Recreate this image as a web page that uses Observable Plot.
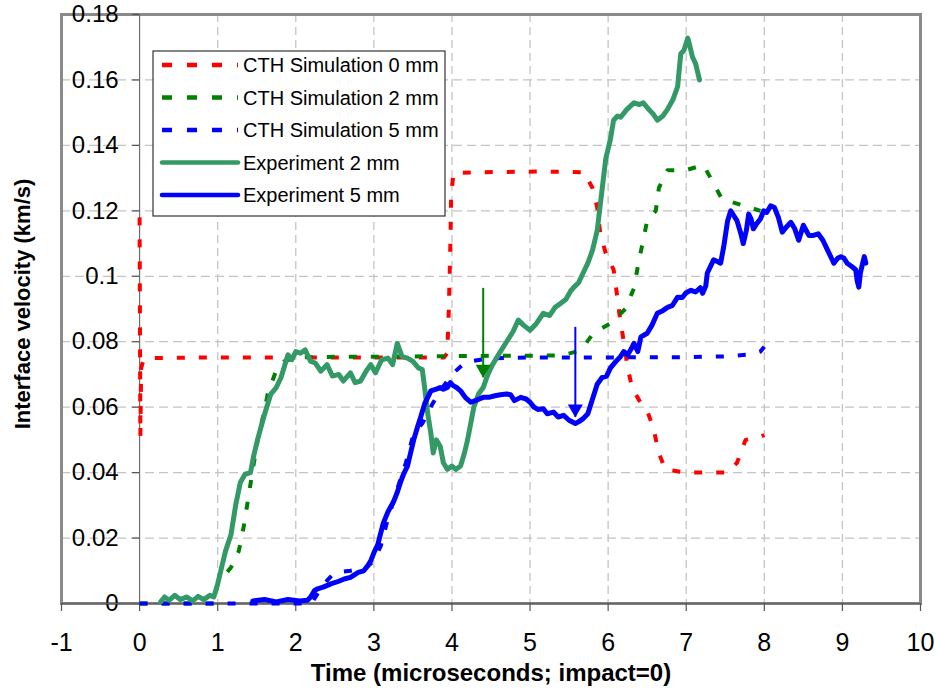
<!DOCTYPE html>
<html><head><meta charset="utf-8">
<script src="https://cdn.jsdelivr.net/npm/d3@7"></script>
<script src="https://cdn.jsdelivr.net/npm/@observablehq/plot@0.6"></script>
<style>body{margin:0;background:#fff}</style>
</head><body><div id="chart"></div>
<script>
// ---- tick values & titles ----
const xTicks = [-1, 0, 1, 2, 3, 4, 5, 6, 7, 8, 9, 10];
const yTicks = [0, 0.02, 0.04, 0.06, 0.08, 0.1, 0.12, 0.14, 0.16, 0.18];
const xTitle = "Time (microseconds; impact=0)";
const yTitle = "Interface velocity (km/s)";

// ---- series: [time (µs), velocity (km/s)] ----
const sim0mm = [[0,0.118],[0.01,0.051],[0.02,0.072],[0.05,0.0745],[0.15,0.075],[1,0.0752],[2,0.0752],[3,0.0752],[3.9,0.0752],[3.94,0.0765],[3.96,0.09],[3.98,0.11],[3.99,0.125],[4.02,0.1315],[4.33,0.1318],[5.13,0.132],[5.69,0.1318],[5.8,0.127],[5.86,0.121],[5.9,0.113],[5.97,0.107],[6.07,0.102],[6.11,0.095],[6.15,0.0875],[6.2,0.08],[6.25,0.072],[6.31,0.0657],[6.4,0.062],[6.5,0.059],[6.58,0.0535],[6.65,0.046],[6.73,0.041],[6.99,0.04],[7.27,0.04],[7.53,0.04],[7.65,0.043],[7.76,0.05],[7.95,0.051],[8.0,0.0515]];
const sim2mm = [[0,0],[0.95,0],[1.01,0.007],[1.1,0.009],[1.17,0.011],[1.27,0.016],[1.33,0.023],[1.38,0.0305],[1.45,0.041],[1.52,0.051],[1.59,0.058],[1.64,0.064],[1.74,0.0706],[1.85,0.074],[2.0,0.0752],[2.5,0.0754],[3.0,0.0754],[3.5,0.0755],[4.0,0.0756],[4.5,0.0757],[5.0,0.0757],[5.4,0.0758],[5.6,0.077],[5.67,0.078],[5.81,0.0826],[6.03,0.0856],[6.22,0.09],[6.33,0.0963],[6.38,0.103],[6.44,0.11],[6.5,0.117],[6.61,0.12],[6.65,0.127],[6.76,0.1324],[6.99,0.1324],[7.22,0.134],[7.35,0.1284],[7.46,0.1235],[7.72,0.1217],[7.95,0.12]];
const sim5mm = [[0,0],[2.2,0],[2.28,0.003],[2.4,0.007],[2.5,0.0095],[2.7,0.01],[2.9,0.011],[3.0,0.013],[3.09,0.0177],[3.17,0.025],[3.3,0.035],[3.41,0.043],[3.51,0.052],[3.62,0.055],[3.75,0.061],[3.88,0.066],[4.0,0.07],[4.17,0.0737],[4.46,0.0749],[5.0,0.0752],[6.0,0.0752],[7.0,0.0753],[7.5,0.0755],[7.85,0.0762],[7.95,0.077],[8.0,0.0785]];
const exp2mm = [[0.27,0.0005],[0.32,0.002],[0.38,0.001],[0.45,0.0025],[0.52,0.0012],[0.6,0.002],[0.68,0.0008],[0.75,0.0022],[0.82,0.0012],[0.9,0.0025],[0.95,0.002],[1.0,0.006],[1.05,0.011],[1.1,0.016],[1.17,0.021],[1.23,0.03],[1.29,0.037],[1.35,0.0395],[1.42,0.04],[1.46,0.045],[1.51,0.05],[1.59,0.057],[1.68,0.064],[1.75,0.066],[1.81,0.069],[1.9,0.076],[1.95,0.0745],[2.0,0.077],[2.06,0.0765],[2.12,0.0775],[2.19,0.074],[2.25,0.0735],[2.32,0.071],[2.4,0.073],[2.47,0.0695],[2.55,0.07],[2.61,0.068],[2.7,0.0705],[2.76,0.0675],[2.83,0.068],[2.9,0.071],[2.96,0.073],[3.02,0.0705],[3.1,0.0745],[3.18,0.075],[3.24,0.073],[3.3,0.0795],[3.36,0.0755],[3.43,0.075],[3.5,0.074],[3.57,0.072],[3.62,0.0715],[3.65,0.066],[3.69,0.058],[3.73,0.052],[3.76,0.046],[3.8,0.05],[3.85,0.048],[3.89,0.043],[3.94,0.041],[4.0,0.042],[4.05,0.041],[4.11,0.042],[4.16,0.046],[4.2,0.05],[4.28,0.06],[4.34,0.064],[4.4,0.066],[4.46,0.07],[4.52,0.073],[4.62,0.077],[4.7,0.08],[4.78,0.083],[4.85,0.0866],[4.92,0.085],[5.0,0.0835],[5.08,0.0855],[5.17,0.0887],[5.25,0.088],[5.32,0.0905],[5.39,0.0917],[5.46,0.093],[5.52,0.0955],[5.56,0.0966],[5.62,0.098],[5.68,0.101],[5.74,0.104],[5.8,0.108],[5.86,0.114],[5.9,0.122],[5.94,0.13],[5.97,0.136],[6.03,0.142],[6.07,0.1477],[6.12,0.149],[6.16,0.1486],[6.24,0.151],[6.33,0.153],[6.4,0.1525],[6.45,0.153],[6.52,0.151],[6.58,0.1495],[6.63,0.1477],[6.7,0.149],[6.76,0.151],[6.83,0.154],[6.89,0.158],[6.93,0.168],[6.97,0.169],[7.02,0.1728],[7.05,0.17],[7.08,0.167],[7.12,0.165],[7.14,0.163],[7.17,0.16]];
const exp5mm = [[1.45,0.0008],[1.6,0.0012],[1.75,0.0005],[1.9,0.0012],[2.05,0.0008],[2.15,0.001],[2.19,0.002],[2.24,0.004],[2.28,0.0045],[2.35,0.005],[2.45,0.006],[2.55,0.0068],[2.62,0.0075],[2.7,0.008],[2.8,0.0095],[2.87,0.01],[2.92,0.0115],[2.96,0.013],[3.0,0.0155],[3.05,0.018],[3.12,0.0245],[3.18,0.028],[3.25,0.031],[3.3,0.034],[3.34,0.037],[3.38,0.0395],[3.43,0.042],[3.47,0.046],[3.51,0.05],[3.56,0.054],[3.6,0.057],[3.65,0.061],[3.69,0.063],[3.73,0.065],[3.8,0.0655],[3.85,0.066],[3.89,0.0655],[3.94,0.066],[3.98,0.0675],[4.02,0.0665],[4.06,0.066],[4.11,0.065],[4.17,0.063],[4.24,0.0615],[4.3,0.062],[4.35,0.0625],[4.4,0.063],[4.47,0.063],[4.55,0.0635],[4.62,0.0638],[4.7,0.064],[4.75,0.0638],[4.8,0.062],[4.88,0.063],[4.95,0.0625],[5.0,0.0615],[5.05,0.06],[5.1,0.0593],[5.17,0.0595],[5.22,0.058],[5.3,0.0585],[5.36,0.057],[5.43,0.0575],[5.5,0.056],[5.58,0.055],[5.62,0.0555],[5.68,0.0565],[5.74,0.058],[5.8,0.0625],[5.86,0.067],[5.92,0.069],[5.98,0.0695],[6.03,0.072],[6.1,0.074],[6.16,0.0755],[6.2,0.077],[6.25,0.076],[6.3,0.078],[6.33,0.0795],[6.38,0.077],[6.42,0.0815],[6.5,0.0826],[6.56,0.085],[6.63,0.0887],[6.7,0.0895],[6.76,0.0905],[6.82,0.091],[6.89,0.0936],[6.95,0.0935],[7.0,0.095],[7.06,0.0957],[7.12,0.0952],[7.18,0.0965],[7.21,0.0948],[7.25,0.097],[7.27,0.101],[7.32,0.1035],[7.35,0.105],[7.4,0.1045],[7.44,0.104],[7.48,0.109],[7.53,0.117],[7.57,0.12],[7.61,0.1185],[7.65,0.117],[7.7,0.113],[7.73,0.11],[7.77,0.114],[7.8,0.119],[7.83,0.1175],[7.86,0.1145],[7.9,0.116],[7.95,0.1175],[7.99,0.12],[8.03,0.1195],[8.08,0.1215],[8.13,0.121],[8.18,0.118],[8.23,0.1135],[8.28,0.115],[8.34,0.1165],[8.39,0.1145],[8.44,0.111],[8.5,0.1156],[8.57,0.1125],[8.63,0.1125],[8.69,0.113],[8.75,0.111],[8.81,0.108],[8.86,0.1055],[8.89,0.104],[8.94,0.1055],[8.98,0.106],[9.02,0.1055],[9.06,0.104],[9.12,0.103],[9.17,0.102],[9.19,0.0985],[9.21,0.0967],[9.23,0.101],[9.26,0.104],[9.28,0.106],[9.3,0.104]];

// arrows: [time, top velocity, tip velocity]
const arrowGreen = [4.40, 0.0963, 0.069];
const arrowBlue = [5.58, 0.0844, 0.0569];

const legendNames = ["CTH Simulation 0 mm", "CTH Simulation 2 mm", "CTH Simulation 5 mm", "Experiment 2 mm", "Experiment 5 mm"];

// ---- styles ----
const colors = ["#ff0000", "#008000", "#0000ff", "#339966", "#0000ff"];
const dashed = [true, true, true, false, false];
const seriesData = [sim0mm, sim2mm, sim5mm, exp2mm, exp5mm];
const DASH = "8,14";
const FONT = "Arial, 'Liberation Sans', Helvetica, sans-serif";

const lineMarks = seriesData.map((s, i) => Plot.line(s, {
  x: d => d[0], y: d => d[1], stroke: colors[i],
  strokeWidth: dashed[i] ? 4 : 5,
  strokeDasharray: dashed[i] ? DASH : null,
  strokeLinecap: dashed[i] ? "butt" : "round",
  strokeLinejoin: "round"
}));

const arrows = [arrowGreen, arrowBlue];
const arrowColors = ["#008000", "#0000ff"];

const plot = Plot.plot({
  width: 935, height: 693,
  marginLeft: 61, marginRight: 15, marginTop: 14, marginBottom: 90,
  x: {domain: [-1, 10], axis: null},
  y: {domain: [0, 0.18], axis: null},
  style: {fontFamily: FONT, background: "white", color: "black", overflow: "visible"},
  marks: [
    // grid
    Plot.ruleY(yTicks.filter(d => d > 0 && d < 0.18), {y: d => d, stroke: "#c4c4c4", strokeWidth: 1.3, strokeDasharray: "9,5"}),
    Plot.ruleX(xTicks.filter(d => d > 0 && d < 10), {x: d => d, stroke: "#c4c4c4", strokeWidth: 1.3, strokeDasharray: "8,5"}),
    // frame
    Plot.frame({stroke: "#8a8a8a", strokeWidth: 3}),
    // y axis at x = 0
    Plot.ruleX([0], {x: d => d, stroke: "#6e6e6e", strokeWidth: 1.2}),
    Plot.ruleY(yTicks, {y: d => d, x1: 0, x2: 0, insetLeft: -7, stroke: "#555", strokeWidth: 1.2}),
    Plot.text(yTicks, {x: 0, y: d => d, text: d => String(d), dx: -21, textAnchor: "end", fontSize: 24, fill: "black"}),
    // x axis at y = 0
    Plot.ruleY([0], {y: d => d, stroke: "#666", strokeWidth: 1.5}),
    Plot.ruleX(xTicks, {x: d => d, y1: 0, y2: 0, insetBottom: -8, stroke: "#555", strokeWidth: 1.2}),
    Plot.text(xTicks, {x: d => d, y: 0, text: d => String(d), dy: 39, fontSize: 25, fill: "black"}),
    // titles
    Plot.text([xTitle], {frameAnchor: "bottom", text: d => d, dy: 77, fontSize: 24, fontWeight: "bold", fill: "black"}),
    Plot.text([yTitle], {frameAnchor: "left", text: d => d, dx: -39, dy: -5, rotate: -90, textAnchor: "middle", fontSize: 22, fontWeight: "bold", fill: "black"}),
    // data
    ...lineMarks,
    // arrows
    Plot.ruleX(arrows, {x: d => d[0], y1: d => d[1], y2: d => d[2], stroke: (d, i) => arrowColors[i], strokeWidth: 2}),
    Plot.dot(arrows, {x: d => d[0], y: d => d[2], symbol: "triangle", r: 5.6, rotate: 180, dy: -8.5, fill: (d, i) => arrowColors[i], stroke: "none"})
  ]
});

// ---- legend inside the plot area ----
const svg = d3.select(plot);
const lg = svg.append("g").attr("font-family", FONT).attr("text-anchor", "start");
lg.append("rect").attr("x", 153).attr("y", 51).attr("width", 292).attr("height", 165)
  .attr("fill", "white").attr("stroke", "#333").attr("stroke-width", 1.2);
legendNames.forEach((name, i) => {
  const yy = 65 + 32.5 * i;
  lg.append("line").attr("x1", 162).attr("x2", 238).attr("y1", yy).attr("y2", yy)
    .attr("stroke", colors[i]).attr("stroke-width", 4.5)
    .attr("stroke-dasharray", dashed[i] ? "10,15" : null)
    .attr("stroke-linecap", dashed[i] ? "butt" : "round");
  lg.append("text").attr("x", 243).attr("y", yy).attr("dy", "0.36em")
    .attr("text-anchor", "start")
    .attr("font-size", 20).attr("fill", "black").text(name);
});

document.getElementById("chart").appendChild(plot);
</script>
</body></html>
